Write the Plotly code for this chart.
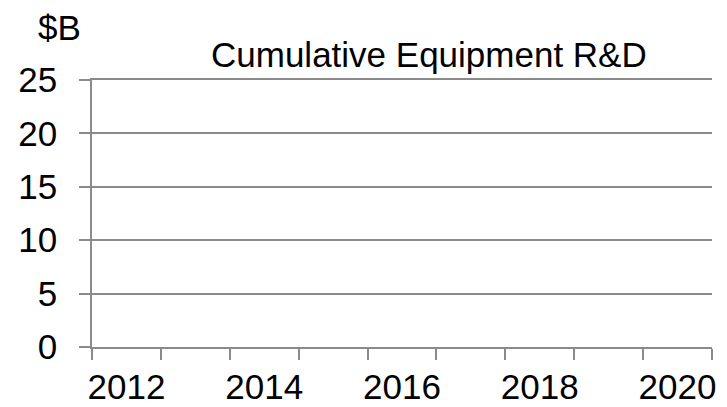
import plotly.graph_objects as go

# Years on the category axis and the (currently empty) cumulative R&D series, $B
years = [2012, 2013, 2014, 2015, 2016, 2017, 2018, 2019, 2020]
label_years = [2012, 2014, 2016, 2018, 2020]
cumulative_rd = [None, None, None, None, None, None, None, None, None]
y_ticks = [0, 5, 10, 15, 20, 25]

FONT = "Liberation Sans, Arial, sans-serif"
LINE = "#8a8a8a"

fig = go.Figure()
fig.add_trace(go.Scatter(x=years, y=cumulative_rd, mode="lines",
                         line=dict(color="#4472c4"), showlegend=False))

fig.update_layout(
    width=727, height=407,
    margin=dict(l=92, r=15, t=80, b=60),
    paper_bgcolor="white", plot_bgcolor="white",
    font=dict(family=FONT, size=35, color="black"),
    showlegend=False,
)

# bottom axis line doubles as the 0 gridline; mirrored top line is the 25 gridline
fig.update_xaxes(
    range=[years[0] - 0.5, years[-1] + 0.5],
    tickmode="array", tickvals=label_years, ticktext=[str(y) for y in label_years],
    ticks="", showgrid=False, zeroline=False,
    showline=True, mirror=True, linecolor=LINE, linewidth=1.5,
    tickfont=dict(size=35, family=FONT),
    ticklabelstandoff=8,
    minor=dict(ticks="outside", ticklen=11, tickcolor=LINE, tickwidth=1.5,
               tick0=years[0] - 0.5, dtick=1, showgrid=False),
    automargin=False,
    fixedrange=True,
)

fig.update_yaxes(
    range=[0, 25],
    tickmode="array", tickvals=y_ticks,
    ticks="outside", ticklen=11, tickcolor=LINE, tickwidth=1.5,
    showgrid=True, gridcolor=LINE, gridwidth=1.5,
    zeroline=False,
    showline=True, linecolor=LINE, linewidth=1.5,
    tickfont=dict(size=35, family=FONT),
    ticklabelstandoff=15,
    automargin=False,
    fixedrange=True,
)

fig.add_annotation(text="Cumulative Equipment R&D", xref="paper", yref="paper",
                   x=0.5435, y=1.0, yshift=26, xanchor="center", yanchor="middle",
                   showarrow=False, font=dict(size=35, family=FONT, color="black"))
fig.add_annotation(text="$B", xref="paper", yref="paper",
                   x=0, xshift=-33, y=1.0, yshift=53, xanchor="center", yanchor="middle",
                   showarrow=False, font=dict(size=35, family=FONT, color="black"))

fig.write_html("out.html")
